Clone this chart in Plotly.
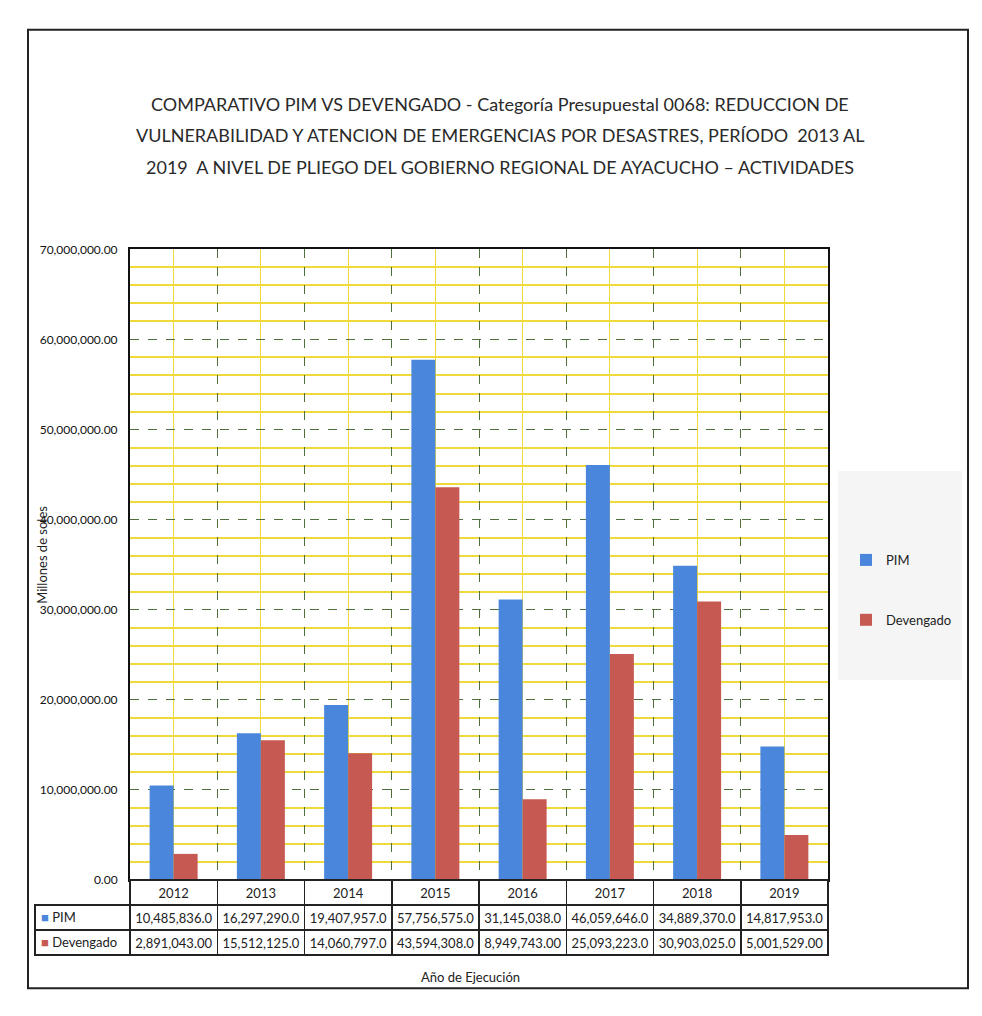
import plotly.graph_objects as go

# Budget figures per execution year
years = ["2012", "2013", "2014", "2015", "2016", "2017", "2018", "2019"]
pim = [10485836, 16297290, 19407957, 57756575, 31145038, 46059646, 34889370, 14817953]
devengado = [2891043, 15512125, 14060797, 43594308, 8949743, 25093223, 30903025, 5001529]

series_names = ["PIM", "Devengado"]
series_colors = ["#4a87dc", "#c65a52"]

title_lines = [
    "COMPARATIVO PIM VS DEVENGADO - Categoría Presupuestal 0068: REDUCCION DE",
    "VULNERABILIDAD Y ATENCION DE EMERGENCIAS POR DESASTRES, PERÍODO  2013 AL",
    "2019  A NIVEL DE PLIEGO DEL GOBIERNO REGIONAL DE AYACUCHO \u2013 ACTIVIDADES",
]
y_title = "Millones de soles"
x_title = "Año de Ejecución"

W, H = 982, 1016
FONT = "Lato, Liberation Sans, sans-serif"

# table geometry (pixels)
TBL_LEFT, TBL_RIGHT = 35, 828
PLOT_LEFT, PLOT_TOP, PLOT_BOTTOM = 130, 245, 885
ROW_H = 25


def px_x(p):
    return p / W


def px_y(p):
    return 1 - p / H


def fmt(v):
    # wide numbers lose a decimal in the table cells
    return f"{v:,.1f}" if v >= 1e7 else f"{v:,.2f}"


positions = list(range(len(years)))

fig = go.Figure()
for name, color, vals in zip(series_names, series_colors, [pim, devengado]):
    fig.add_trace(go.Bar(
        x=positions, y=vals, name=name, legendgroup=name,
        marker=dict(color=color, line=dict(width=0)),
        xaxis="x", yaxis="y",
    ))

# Data table under the plot; the first column holds the series keys (drawn as annotations)
table_cols = [["" for _ in series_names]]
for i in range(len(years)):
    table_cols.append([fmt(pim[i]), fmt(devengado[i])])

n = len(years)
fig.add_trace(go.Table(
    domain=dict(x=[px_x(TBL_LEFT), px_x(TBL_RIGHT)],
                y=[px_y(PLOT_BOTTOM + 3 * ROW_H + 8), px_y(PLOT_BOTTOM)]),
    columnwidth=[PLOT_LEFT - TBL_LEFT] + [(TBL_RIGHT - PLOT_LEFT) / n] * n,
    header=dict(
        values=[""] + years,
        fill_color=["rgba(0,0,0,0)"] + ["white"] * n,
        line=dict(color=["rgba(0,0,0,0)"] + ["#222"] * n, width=1.5),
        font=dict(family=FONT, size=13, color="#222"),
        align="center", height=ROW_H,
    ),
    cells=dict(
        values=table_cols,
        fill_color="white",
        line=dict(color="#222", width=1.5),
        font=dict(family=FONT, size=13, color="#222"),
        align="center", height=ROW_H,
    ),
))

grid_major = "#4f6f3c"
grid_minor = "#f0d93a"

fig.update_layout(
    width=W, height=H, autosize=False,
    margin=dict(l=0, r=0, t=0, b=0),
    paper_bgcolor="white", plot_bgcolor="white",
    barmode="group", bargap=0.45, bargroupgap=0.0,
    font=dict(family=FONT, color="#222"),
    xaxis=dict(
        domain=[px_x(PLOT_LEFT), px_x(TBL_RIGHT)],
        range=[-0.5, n - 0.5],
        tick0=0.5, dtick=1, showticklabels=False, ticks="",
        showgrid=True, gridcolor=grid_major, griddash="dash", gridwidth=1,
        minor=dict(tick0=0, dtick=1, showgrid=True, gridcolor=grid_minor,
                   gridwidth=1.2, griddash="solid"),
        showline=True, linecolor="#111", linewidth=2, mirror=True,
        zeroline=False, fixedrange=True,
    ),
    yaxis=dict(
        domain=[px_y(PLOT_BOTTOM), px_y(PLOT_TOP)],
        range=[0, 70e6], dtick=10e6, tickformat=",.2f",
        tickfont=dict(family=FONT, size=12, color="#111"),
        showgrid=True, gridcolor=grid_major, griddash="dash", gridwidth=1,
        minor=dict(dtick=2e6, showgrid=True, gridcolor=grid_minor,
                   gridwidth=2, griddash="solid"),
        showline=True, linecolor="#111", linewidth=2, mirror=True,
        ticks="", zeroline=False, ticklabelstandoff=8,
    ),
    legend=dict(
        x=px_x(846), y=px_y(545), xanchor="left", yanchor="top",
        bgcolor="rgba(0,0,0,0)", tracegroupgap=40,
        font=dict(family=FONT, size=13, color="#222"),
        itemwidth=30,
    ),
    showlegend=True,
)

annotations = []
for i, line in enumerate(title_lines):
    annotations.append(dict(
        text=line, x=px_x(500), y=px_y(97 + i * 32), xref="paper", yref="paper",
        showarrow=False, xanchor="center", yanchor="middle",
        font=dict(family=FONT, size=18, color="#2a2a2a"),
    ))
annotations.append(dict(
    text=y_title, x=px_x(42), y=px_y(555), xref="paper", yref="paper",
    showarrow=False, textangle=-90, xanchor="center", yanchor="middle",
    font=dict(family=FONT, size=13, color="#222"),
))
annotations.append(dict(
    text=x_title, x=px_x(470), y=px_y(PLOT_BOTTOM + 3 * ROW_H + 24), xref="paper", yref="paper",
    showarrow=False, xanchor="center", yanchor="middle",
    font=dict(family=FONT, size=13, color="#222"),
))
# series keys in the table's first column
for k, (name, color) in enumerate(zip(series_names, series_colors)):
    annotations.append(dict(
        text=f"<span style='color:{color}'>\u25a0</span> {name}",
        x=px_x(TBL_LEFT + 4), y=px_y(PLOT_BOTTOM + ROW_H * (k + 1.5)),
        xref="paper", yref="paper", showarrow=False, xanchor="left", yanchor="middle",
        font=dict(family=FONT, size=13, color="#222"),
    ))
fig.update_layout(annotations=annotations)

fig.update_layout(shapes=[
    # outer chart frame
    dict(type="rect", xref="paper", yref="paper",
         x0=px_x(28), x1=px_x(968), y0=px_y(995), y1=px_y(22),
         line=dict(color="#222", width=2), fillcolor="rgba(0,0,0,0)", layer="below"),
    # legend panel
    dict(type="rect", xref="paper", yref="paper",
         x0=px_x(838), x1=px_x(962), y0=px_y(682), y1=px_y(470),
         line=dict(width=0), fillcolor="#f5f5f5", layer="below"),
])

fig.write_html("out.html")
